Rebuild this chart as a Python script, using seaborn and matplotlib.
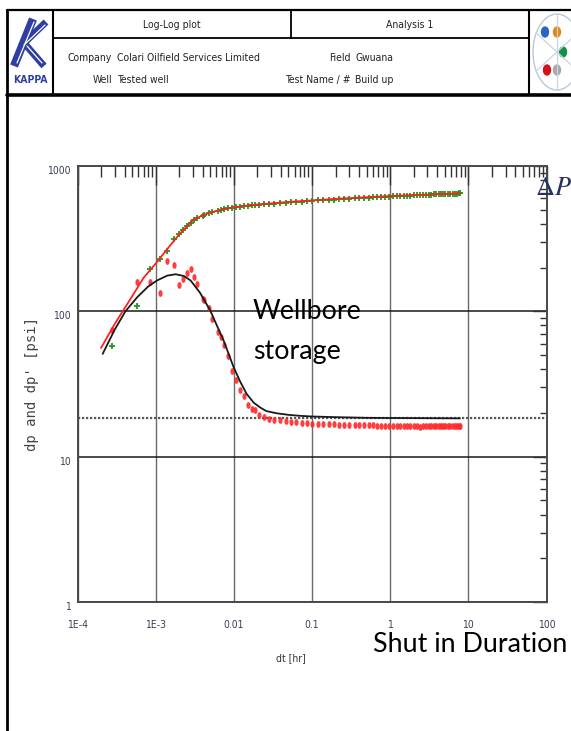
import numpy as np
import pandas as pd
import matplotlib
matplotlib.use("Agg")
import matplotlib.pyplot as plt
import seaborn as sns
from matplotlib.path import Path
from matplotlib.patches import Ellipse
from matplotlib.lines import Line2D
from matplotlib.ticker import LogLocator, NullFormatter

# ---------------- data ----------------
dt = [2.8e-4, 5.7e-4, 8.4e-4, 1.13e-3, 1.4e-3, 1.7e-3, 1.98e-3, 2.27e-3, 2.5e-3, 2.8e-3,
      3.1e-3, 3.4e-3, 3.98e-3, 4.2e-3, 4.8e-3, 5.3e-3, 6.2e-3, 6.8e-3, 7.5e-3, 8.4e-3,
      9.6e-3, 1.06e-2, 1.21e-2, 1.34e-2, 1.5e-2, 1.7e-2, 1.88e-2, 2.1e-2, 0.024, 0.028,
      0.033, 0.039, 0.046, 0.054, 0.063, 0.074, 0.087, 0.1, 0.12, 0.14,
      0.165, 0.19, 0.22, 0.26, 0.3, 0.35, 0.4, 0.46, 0.53, 0.6,
      0.68, 0.77, 0.87, 0.98, 1.1, 1.22, 1.35, 1.5, 1.65, 1.8,
      2.0, 2.2, 2.4, 2.6, 2.85, 3.1, 3.35, 3.6, 3.9, 4.2,
      4.5, 4.8, 5.1, 5.5, 5.9, 6.3, 6.7, 7.1, 7.5, 7.8]
dp = [58, 109, 197, 228, 261, 315, 338, 362, 385, 408,
      428, 440, 456, 462, 472, 480, 492, 498, 503, 510,
      517, 521, 526, 530, 534, 537, 540, 543, 546, 549,
      552, 555, 559, 562, 565, 569, 573, 576, 579, 582,
      585, 588, 591, 594, 596, 599, 601, 604, 606, 608,
      610, 612, 614, 616, 618, 620, 621, 623, 625, 626,
      628, 629, 631, 632, 634, 635, 636, 637, 638, 639,
      640, 641, 642, 643, 644, 645, 645, 646, 647, 647]
dp_der = [74, 159, 159, 133, 221, 208, 151, 168, 184, 196,
          173, 153, 122, 119, 106, 88, 72, 67, 59, 49,
          39, 33.8, 28.8, 26, 22.5, 21.3, 21, 19.2, 18.6, 18.3,
          18.0, 17.8, 17.6, 17.4, 17.3, 17.1, 17.0, 16.9, 16.8, 16.8,
          16.7, 16.7, 16.6, 16.6, 16.5, 16.5, 16.5, 16.4, 16.4, 16.4,
          16.3, 16.3, 16.3, 16.3, 16.2, 16.3, 16.2, 16.2, 16.3, 16.2,
          16.2, 16.2, 16.1, 16.2, 16.2, 16.2, 16.3, 16.2, 16.2, 16.2,
          16.2, 16.3, 16.2, 16.2, 16.2, 16.3, 16.2, 16.2, 16.3, 16.3]

model_dt = [2.0e-4, 3.0e-4, 5.0e-4, 7.0e-4, 1.0e-3, 1.5e-3, 2.0e-3, 3.0e-3, 4.0e-3, 5.0e-3,
            7.0e-3, 1.0e-2, 1.5e-2, 2.0e-2, 3.0e-2, 5.0e-2, 0.1, 0.2, 0.5, 1, 2, 5, 7.8]
model_dp = [56, 82, 127, 170, 213, 280, 338, 425, 458, 478,
            502, 520, 535, 543, 553, 566, 580, 594, 610, 621, 631, 643, 649]

model_der_dt = [2.1e-4, 3.0e-4, 4.1e-4, 5.8e-4, 8.0e-4, 1.04e-3, 1.4e-3, 1.8e-3, 2.3e-3, 2.8e-3,
                3.7e-3, 5.0e-3, 6.0e-3, 7.4e-3, 9.9e-3, 1.2e-2, 1.46e-2, 1.8e-2, 2.17e-2, 2.6e-2,
                3.5e-2, 5.0e-2, 7.0e-2, 0.1, 0.2, 0.5, 1, 3, 7.8]
model_der = [51, 75, 100, 125, 148, 163, 176, 180, 175, 163,
             134, 101, 81, 63, 41.5, 33, 27, 23.5, 21.8, 20.6,
             19.9, 19.4, 19.1, 18.9, 18.7, 18.5, 18.45, 18.4, 18.35]

stab_level = 18.5

x_ticks = [1e-4, 1e-3, 1e-2, 1e-1, 1, 10, 100]
x_tick_labels = ["1E-4", "1E-3", "0.01", "0.1", "1", "10", "100"]
y_ticks = [1, 10, 100, 1000]
y_tick_labels = ["1", "10", "100", "1000"]

# ---------------- style ----------------
sns.set_theme(style="white")
NARROW = ["Liberation Sans Narrow", "DejaVu Sans"]
plt.rcParams["font.family"] = NARROW
plt.rcParams["font.stretch"] = "condensed"

W, H = 571, 731
fig = plt.figure(figsize=(W / 100, H / 100), dpi=100)
fig.patch.set_facecolor("white")


def fx(px):
    return px / W


def fy(py):
    return 1 - py / H


ax = fig.add_axes([fx(77.5), fy(602), (546.5 - 77.5) / W, (602 - 166) / H])
ax.set_facecolor("white")
ax.set_xscale("log")
ax.set_yscale("log")

meas = pd.DataFrame({"dt": dt, "dp": dp, "dpd": dp_der})

theta = np.linspace(0, 2 * np.pi, 41)
ell_marker = Path(np.column_stack([0.62 * np.cos(theta), np.sin(theta)]), closed=True)

sns.scatterplot(data=meas, x="dt", y="dpd", marker=ell_marker, s=24, color="#ff2a2a",
                linewidth=0, alpha=0.9, ax=ax, zorder=3)
sns.scatterplot(data=meas, x="dt", y="dp", marker="+", s=22, color="#1f9a1f",
                linewidth=1.3, ax=ax, zorder=3)
sns.lineplot(x=model_dt, y=model_dp, color="#ff2020", lw=1.3, ax=ax, estimator=None,
             zorder=4)
sns.lineplot(x=model_der_dt, y=model_der, color="#1a1a1a", lw=1.3, ax=ax, estimator=None,
             zorder=4)

ax.axhline(stab_level, color="#555555", lw=1.6, ls=(0, (1, 0.8)), zorder=2)

ax.set_xlim(1e-4, 100)
ax.set_ylim(1, 1000)
ax.set_xticks(x_ticks)
ax.set_xticklabels(x_tick_labels)
ax.set_yticks(y_ticks)
ax.set_yticklabels(y_tick_labels, va="top")
for axis in (ax.xaxis, ax.yaxis):
    axis.set_minor_locator(LogLocator(base=10, subs=np.arange(2, 10), numticks=20))
    axis.set_minor_formatter(NullFormatter())

ax.tick_params(which="both", direction="in", top=True, right=True, colors="#333333")
ax.tick_params(axis="x", which="minor", length=8, width=1)
ax.tick_params(axis="x", which="major", length=14, width=1, pad=13)
ax.tick_params(axis="y", which="minor", length=5, width=1)
ax.tick_params(axis="y", which="major", length=10, width=1, pad=5)
ax.tick_params(labelsize=7.5, labelcolor="#3a3f55")

ax.xaxis.grid(True, which="major", color="#6a6a6a", lw=1.0)
ax.yaxis.grid(True, which="major", color="#1a1a1a", lw=1.1)
for s in ax.spines.values():
    s.set_color("#4a4a4a")
    s.set_linewidth(1.4)

ax.set_xlabel("dt [hr]", fontsize=7.5, color="#333333", va="center")
ax.xaxis.set_label_coords((291 - 77.5) / 469, (602 - 658) / 436)
ax.set_ylabel("dp and dp' [psi]", family=["DejaVu Sans Mono"], fontstretch="normal",
              fontsize=10, color="#444444", va="center")
ax.yaxis.set_label_coords((32 - 77.5) / 469, 0.5)

# ---------------- annotations ----------------
CAL = ["Lato", "DejaVu Sans"]
fig.text(fx(253), fy(311), "Wellbore", fontsize=19.3, family=CAL, fontstretch="normal",
         va="center", ha="left", color="black")
fig.text(fx(253), fy(352), "storage", fontsize=19.3, family=CAL, fontstretch="normal",
         va="center", ha="left", color="black")
fig.text(fx(470), fy(645), "Shut in Duration", fontsize=19.3, family=CAL,
         fontstretch="normal", va="center", ha="center", color="black")
fig.text(fx(535), fy(188), r"$\Delta P$", fontsize=19, color="#26335e", va="center",
         ha="left", math_fontfamily="stix")

# ---------------- header ----------------
def hline(y, x0, x1, lw=1.4):
    fig.add_artist(Line2D([fx(x0), fx(x1)], [fy(y), fy(y)], color="black", lw=lw))


def vline(x, y0, y1, lw=1.4):
    fig.add_artist(Line2D([fx(x), fx(x)], [fy(y0), fy(y1)], color="black", lw=lw))


hline(9.5, 7, 571, 1.6)
hline(94.5, 7, 571, 2.6)
vline(7, 9.5, 731, 2.0)
vline(53, 9.5, 94.5, 1.5)
vline(529, 9.5, 94.5, 1.5)
hline(37.5, 53, 529, 1.3)
vline(291, 9.5, 37.5, 1.3)

HC = "#222222"
HS = 7.5
fig.text(fx(172), fy(25), "Log-Log plot", fontsize=HS, color=HC, ha="center", va="center")
fig.text(fx(410), fy(25), "Analysis 1", fontsize=HS, color=HC, ha="center", va="center")
fig.text(fx(112), fy(58), "Company", fontsize=HS, color=HC, ha="right", va="center")
fig.text(fx(117), fy(58), "Colari Oilfield Services Limited", fontsize=HS, color=HC,
         ha="left", va="center")
fig.text(fx(112), fy(80), "Well", fontsize=HS, color=HC, ha="right", va="center")
fig.text(fx(117), fy(80), "Tested well", fontsize=HS, color=HC, ha="left", va="center")
fig.text(fx(351), fy(58), "Field", fontsize=HS, color=HC, ha="right", va="center")
fig.text(fx(355), fy(58), "Gwuana", fontsize=HS, color=HC, ha="left", va="center")
fig.text(fx(351), fy(80), "Test Name / #", fontsize=HS, color=HC, ha="right", va="center")
fig.text(fx(355), fy(80), "Build up", fontsize=HS, color=HC, ha="left", va="center")

# KAPPA logo
KB = "#2f3f9f"
for (xs, ys, lw) in [([14, 33], [66, 19], 6.0), ([21, 46], [46, 22], 5.0),
                     ([25, 44], [44, 66], 5.0)]:
    fig.add_artist(Line2D([fx(v) for v in xs], [fy(v) for v in ys], color=KB, lw=lw,
                          solid_capstyle="butt"))
for (xs, ys) in [([17, 34], [63, 22]), ([24, 45], [45, 25]), ([27, 42], [46, 63])]:
    fig.add_artist(Line2D([fx(v) for v in xs], [fy(v) for v in ys], color="white",
                          lw=0.9))
fig.text(fx(30), fy(80), "KAPPA", fontsize=7.5, color=KB, weight="bold", ha="center",
         va="center")

# right logo
cx, cy = 557, 52
fig.add_artist(Ellipse((fx(cx), fy(cy)), 2 * 24 / W, 2 * 38 / H, fill=False,
                       edgecolor="#b8c8dc", lw=1.0))
for ang in (30, 90, 150):
    a = np.deg2rad(ang)
    fig.add_artist(Line2D([fx(cx - 24 * np.cos(a)), fx(cx + 24 * np.cos(a))],
                          [fy(cy - 38 * np.sin(a)), fy(cy + 38 * np.sin(a))],
                          color="#c8d4e4", lw=0.9))
for (px, py, col) in [(545, 32, "#2a64c4"), (557, 32, "#e08a14"), (563, 52, "#15904a"),
                      (547, 70, "#d0141e"), (557, 70, "#a8a8a8")]:
    fig.add_artist(Ellipse((fx(px), fy(py)), 7 / W, 10 / H, color=col))

fig.savefig("out.png", dpi=100)
